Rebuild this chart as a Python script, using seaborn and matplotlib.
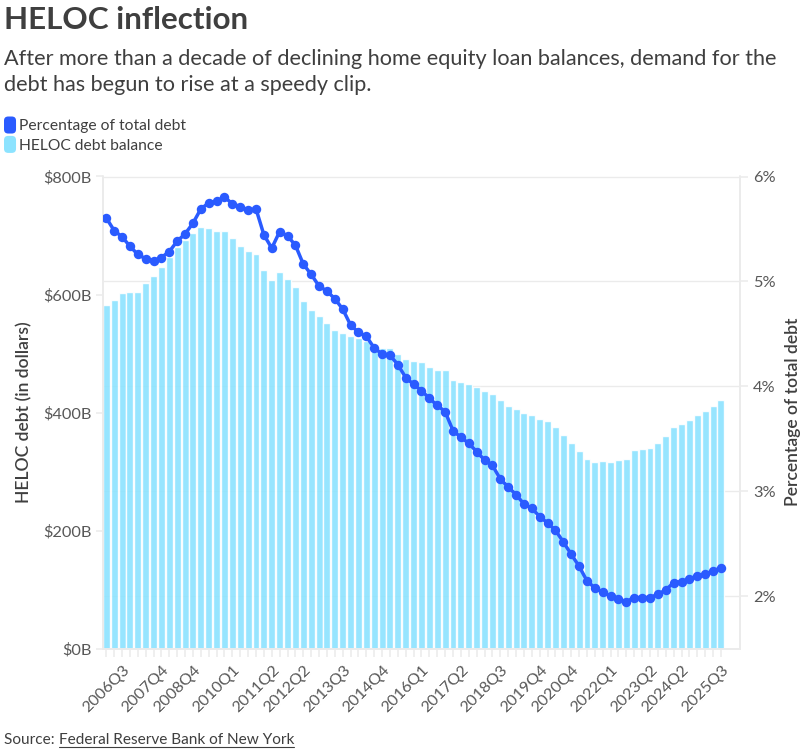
import matplotlib
matplotlib.use("Agg")
import matplotlib.pyplot as plt
import seaborn as sns
import pandas as pd
from matplotlib.patches import Patch, FancyBboxPatch
from matplotlib.legend_handler import HandlerPatch
from matplotlib.lines import Line2D
from matplotlib.transforms import blended_transform_factory

W, H = 807, 754
BAR = "#8CE3FF"
LINE = "#2A5BFF"
AXIS = "#EBEBEB"
DARK = "#3F3F3F"
MID = "#585858"

quarters = [f"{y}Q{q}" for y in range(2006, 2027) for q in range(1, 5)][2:81]

balance = [582, 590, 603, 604, 604.5, 619, 631, 647, 664, 680, 692, 705, 714, 713, 708, 707,
           695, 682, 673, 668, 641, 625, 638, 627, 612, 589, 573, 563, 552, 540, 535, 529,
           526, 521, 505, 509, 509, 499, 491, 487, 485, 478, 472, 473, 455, 452, 449, 444,
           436, 432, 421, 412, 406, 399, 395.5, 390, 386, 375, 362, 349, 335, 321, 317, 318,
           317, 319, 321, 336, 339, 340, 349, 360, 376, 380, 387, 396, 402, 411, 421]
share = [5.605, 5.485, 5.425, 5.336, 5.257, 5.216, 5.197, 5.228, 5.285, 5.384, 5.453, 5.555,
         5.691, 5.748, 5.764, 5.805, 5.739, 5.713, 5.681, 5.691, 5.444, 5.317, 5.475, 5.434,
         5.345, 5.165, 5.067, 4.956, 4.908, 4.835, 4.737, 4.585, 4.515, 4.477, 4.366, 4.309,
         4.296, 4.208, 4.083, 4.019, 3.959, 3.886, 3.819, 3.759, 3.578, 3.514, 3.457, 3.378,
         3.298, 3.248, 3.117, 3.041, 2.968, 2.879, 2.838, 2.759, 2.698, 2.629, 2.517, 2.400,
         2.286, 2.146, 2.079, 2.038, 2.000, 1.971, 1.949, 1.987, 1.987, 1.987, 2.019, 2.060,
         2.130, 2.140, 2.162, 2.197, 2.210, 2.241, 2.270]
x_tick_labels = ["2006Q3", "2007Q4", "2008Q4", "2010Q1", "2011Q2", "2012Q2", "2013Q3", "2014Q4",
                 "2016Q1", "2017Q2", "2018Q3", "2019Q4", "2020Q4", "2022Q1", "2023Q2", "2024Q2",
                 "2025Q3"]
left_ticks = [0, 200, 400, 600, 800]
right_ticks = [2, 3, 4, 5, 6]

sns.set_theme(style="white")
plt.rcParams["font.family"] = ["Lato", "DejaVu Sans"]

df = pd.DataFrame({"quarter": quarters, "pos": range(len(quarters)),
                   "balance": balance, "share": share})

fig = plt.figure(figsize=(W / 100, H / 100), dpi=100)
fig.patch.set_facecolor("white")
L, R, T, B = 102.5, 740.0, 176.5, 648.7
ax = fig.add_axes([L / W, 1 - B / H, (R - L) / W, (B - T) / H])

sns.barplot(data=df, x="quarter", y="balance", order=quarters, color=BAR, saturation=1,
            alpha=0.9, width=0.88, ax=ax, zorder=2)
ax.set_xlim(-0.48, 80.42)
ax.set_ylim(0, 800)

tw = ax.twinx()
sns.lineplot(data=df, x="pos", y="share", color=LINE, linewidth=2.5, marker="o", markersize=6.8,
             markeredgewidth=0, ax=tw, zorder=5)
tw.set_ylim(1.5, 6)
tw.set_xlim(-0.48, 80.42)

trans = blended_transform_factory(ax.transAxes, tw.transData)
for v in right_ticks:
    ax.plot([0, 1], [v, v], transform=trans, color=AXIS, lw=1.0, zorder=1, clip_on=False)

ax.set_yticks(left_ticks)
ax.set_yticklabels([f"${v}B" for v in left_ticks])
tw.set_yticks(right_ticks)
tw.set_yticklabels([f"{v}%" for v in right_ticks])

ax.set_xticks(range(len(quarters)))
ax.set_xticklabels([q if q in x_tick_labels else "" for q in quarters],
                   rotation=45, ha="center", va="top", rotation_mode="default")
ax.tick_params(axis="x", length=6, width=1.1, color=AXIS, labelcolor=MID, labelsize=11.6, pad=4, bottom=True)
ax.tick_params(axis="y", length=5, width=1.1, color=AXIS, labelcolor=MID, labelsize=11.8, pad=3, left=True)
tw.tick_params(axis="y", length=6, width=1.1, color=AXIS, labelcolor=MID, labelsize=11.8, pad=3.5, right=True)

for a in (ax, tw):
    a.grid(False)
    for s in a.spines.values():
        s.set_color(AXIS)
        s.set_linewidth(1.2)
    a.spines["top"].set_visible(False)
tw.patch.set_visible(False)

ax.set_xlabel("")
ax.set_ylabel("")
tw.set_xlabel("")
tw.set_ylabel("")


def fx(px):
    return px / W


def fy(py):
    return 1 - py / H


fig.text(fx(24), fy(412), "HELOC debt (in dollars)", rotation=90, ha="center", va="center",
         fontsize=12.6, fontweight="semibold", color=DARK)
fig.text(fx(793), fy(412), "Percentage of total debt", rotation=90, ha="center", va="center",
         fontsize=12.6, fontweight="semibold", color=DARK)

fig.text(fx(4), fy(20), "HELOC inflection", ha="left", va="center", fontsize=22.6,
         fontweight="bold", color=DARK)
fig.text(fx(4), fy(59), "After more than a decade of declining home equity loan balances, demand for the",
         ha="left", va="center", fontsize=15.55, color=DARK)
fig.text(fx(4), fy(85), "debt has begun to rise at a speedy clip.", ha="left", va="center",
         fontsize=15.55, color=DARK)


class RoundHandler(HandlerPatch):
    def create_artists(self, legend, orig, xdescent, ydescent, width, height, fontsize, trans):
        p = FancyBboxPatch((3 - xdescent, 3 - ydescent), width - 6, height - 6,
                           boxstyle="round,pad=3,rounding_size=3",
                           facecolor=orig.get_facecolor(), edgecolor="none", transform=trans)
        return [p]


handles = [Patch(facecolor=LINE, label="Percentage of total debt"),
           Patch(facecolor=BAR, label="HELOC debt balance")]
leg = fig.legend(handles=handles, loc="upper left", bbox_to_anchor=(fx(4), fy(116.5)),
                 frameon=False, fontsize=11.25, labelcolor=DARK, borderpad=0, borderaxespad=0,
                 handlelength=0.77, handleheight=1.3, handletextpad=0.2, labelspacing=0.15,
                 handler_map={Patch: RoundHandler()})

src_a = fig.text(fx(4), fy(740), "Source: ", ha="left", va="center", fontsize=11.1, color=DARK)
src_b = fig.text(fx(59), fy(740), "Federal Reserve Bank of New York", ha="left", va="center",
                 fontsize=11.1, color=DARK)
fig.canvas.draw()
bb = src_b.get_window_extent()
fig.add_artist(Line2D([bb.x0 / W, bb.x1 / W], [fy(746.5)] * 2, color=DARK, lw=0.8))

fig.savefig("out.png", dpi=100, facecolor="white")
